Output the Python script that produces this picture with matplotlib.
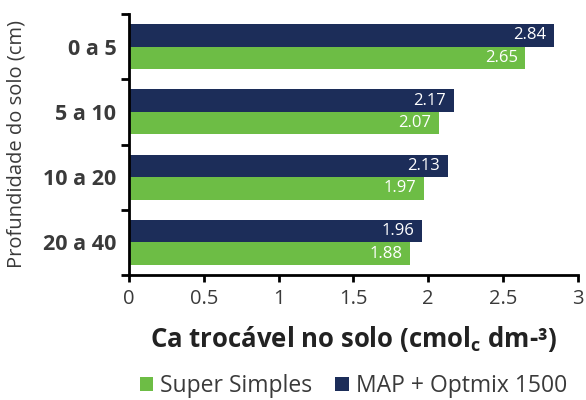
import matplotlib.pyplot as plt
import numpy as np

depths = ["0 a 5", "5 a 10", "10 a 20", "20 a 40"]
super_simples = [2.65, 2.07, 1.97, 1.88]
map_optmix = [2.84, 2.17, 2.13, 1.96]
series_names = ["Super Simples", "MAP + Optmix 1500"]

green = "#6dbd45"
navy = "#1c2d59"
txt = "#3a3a3a"

plt.rcParams['font.family'] = ['Open Sans', 'DejaVu Sans']

fig = plt.figure(figsize=(5.86, 4.0), dpi=100)
ax = fig.add_axes([0.22, 0.3125, 0.766, 0.6525])

y = np.arange(len(depths))
h = 0.345
b1 = ax.barh(y + h / 2, super_simples, height=h, color=green, label=series_names[0])
b2 = ax.barh(y - h / 2, map_optmix, height=h, color=navy, label=series_names[1])

for bars, vals in [(b1, super_simples), (b2, map_optmix)]:
    for r, v in zip(bars, vals):
        ax.text(v - 0.05, r.get_y() + r.get_height() / 2, f"{v:.2f}",
                ha="right", va="center", color="white", fontsize=12)

ax.set_xlim(0, 3)
ax.set_ylim(len(depths) - 0.5, -0.5)
ax.set_xticks(np.arange(0, 3.01, 0.5))
ax.set_xticklabels(["0", "0.5", "1", "1.5", "2", "2.5", "3"], fontsize=14.5, color=txt)
ax.set_yticks(y)
ax.set_yticklabels(depths, fontsize=15.5, fontweight="bold", color=txt)
ax.tick_params(axis="y", length=0, pad=9)
ax.set_yticks(np.arange(-0.5, len(depths), 1), minor=True)
ax.tick_params(axis="y", which="minor", length=6, width=2)
ax.tick_params(axis="x", length=5, width=2, pad=5)

for s in ["top", "right"]:
    ax.spines[s].set_visible(False)
ax.spines["left"].set_linewidth(2)
ax.spines["bottom"].set_linewidth(2)

ax.set_xlabel("Ca trocável no solo (cmol$_\\mathregular{c}$ dm-³)", fontsize=18.5,
              fontweight="bold", color="#222222", labelpad=11)
ax.set_ylabel("Profundidade do solo (cm)", fontsize=14.5, color=txt, labelpad=12)

ax.legend(loc="center", bbox_to_anchor=(0.5, -0.425), ncol=2, frameon=False,
          fontsize=16.5, handlelength=0.6, handleheight=0.6, handletextpad=0.3,
          columnspacing=1.0, labelcolor=txt)

fig.savefig("out.png", dpi=100)
